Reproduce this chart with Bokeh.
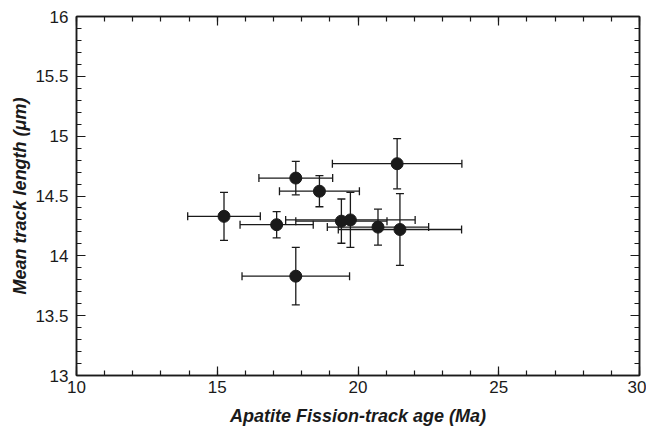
from bokeh.plotting import figure
from bokeh.models import (ColumnDataSource, Whisker, TeeHead, LinearAxis, Range1d,
                          FixedTicker)
from bokeh.embed import file_html
from bokeh.resources import INLINE

# Data
age = [15.24, 17.11, 17.79, 17.79, 18.63, 19.41, 19.73, 20.71, 21.49, 21.39]
age_err = [1.29, 1.30, 1.31, 1.91, 1.42, 1.62, 2.30, 1.80, 2.19, 2.30]
mtl = [14.33, 14.26, 14.65, 13.83, 14.54, 14.29, 14.30, 14.24, 14.22, 14.77]
mtl_err = [0.20, 0.11, 0.14, 0.24, 0.13, 0.185, 0.23, 0.15, 0.30, 0.21]

x_major = [10, 15, 20, 25, 30]
y_major = [13, 13.5, 14, 14.5, 15, 15.5, 16]

src = ColumnDataSource(dict(
    x=age, y=mtl,
    xl=[a - e for a, e in zip(age, age_err)],
    xu=[a + e for a, e in zip(age, age_err)],
    yl=[m - e for m, e in zip(mtl, mtl_err)],
    yu=[m + e for m, e in zip(mtl, mtl_err)],
))

FONT = "Liberation Sans"
INK = "#1a1a1a"

p = figure(width=646, height=430, output_backend="svg", toolbar_location=None,
           x_range=Range1d(10, 30), y_range=Range1d(13, 16),
           min_border_left=76, min_border_right=7, min_border_top=16,
           min_border_bottom=55, x_axis_location=None, y_axis_location=None)
p.grid.visible = False
p.outline_line_color = INK
p.outline_line_width = 1.5
p.background_fill_color = "white"
p.border_fill_color = "white"

def style(ax, labels=True):
    ax.axis_line_color = INK
    ax.axis_line_width = 1.5
    ax.major_tick_line_color = INK
    ax.minor_tick_line_color = INK
    ax.major_tick_line_width = 1.2
    ax.minor_tick_line_width = 1.2
    ax.major_tick_in = 9
    ax.major_tick_out = 0
    ax.minor_tick_in = 5
    ax.minor_tick_out = 0
    ax.major_label_text_font = FONT
    ax.major_label_text_font_size = "17px"
    ax.major_label_text_color = INK
    ax.axis_label_text_font = FONT
    ax.axis_label_text_font_size = "18px"
    ax.axis_label_text_font_style = "bold italic"
    ax.axis_label_text_color = INK
    if not labels:
        ax.major_label_standoff = 0

xt = FixedTicker(ticks=x_major, minor_ticks=list(range(10, 31)))
yt = FixedTicker(ticks=y_major, minor_ticks=[13 + 0.1 * i for i in range(31)])

xb = LinearAxis(ticker=xt, axis_label="Apatite Fission-track age (Ma)")
style(xb)
xb.major_label_standoff = 5
xb.axis_label_standoff = 10
p.add_layout(xb, "below")

yl = LinearAxis(ticker=yt, axis_label="Mean track length (μm)")
style(yl)
yl.major_label_standoff = 8
yl.axis_label_standoff = 2
yl.major_label_overrides = {13.5: "13.5", 14.5: "14.5", 15.5: "15.5",
                            13: "13", 14: "14", 15: "15", 16: "16"}
p.add_layout(yl, "left")

# mirrored tick marks on the top and right edges (no labels)
xa = LinearAxis(ticker=xt)
style(xa, labels=False)
xa.major_label_overrides = {t: "" for t in x_major}
p.add_layout(xa, "above")

yr = LinearAxis(ticker=yt)
style(yr, labels=False)
yr.major_label_overrides = {t: "" for t in y_major}
p.add_layout(yr, "right")

head_kw = dict(size=8, line_color=INK, line_width=1.3)
p.add_layout(Whisker(source=src, base="y", lower="xl", upper="xu", dimension="width",
                     line_color=INK, line_width=1.3,
                     lower_head=TeeHead(**head_kw), upper_head=TeeHead(**head_kw)))
p.add_layout(Whisker(source=src, base="x", lower="yl", upper="yu", dimension="height",
                     line_color=INK, line_width=1.3,
                     lower_head=TeeHead(**head_kw), upper_head=TeeHead(**head_kw)))

p.scatter("x", "y", source=src, size=12, fill_color=INK, line_color=INK)

open("out.html", "w").write(file_html(p, INLINE))
